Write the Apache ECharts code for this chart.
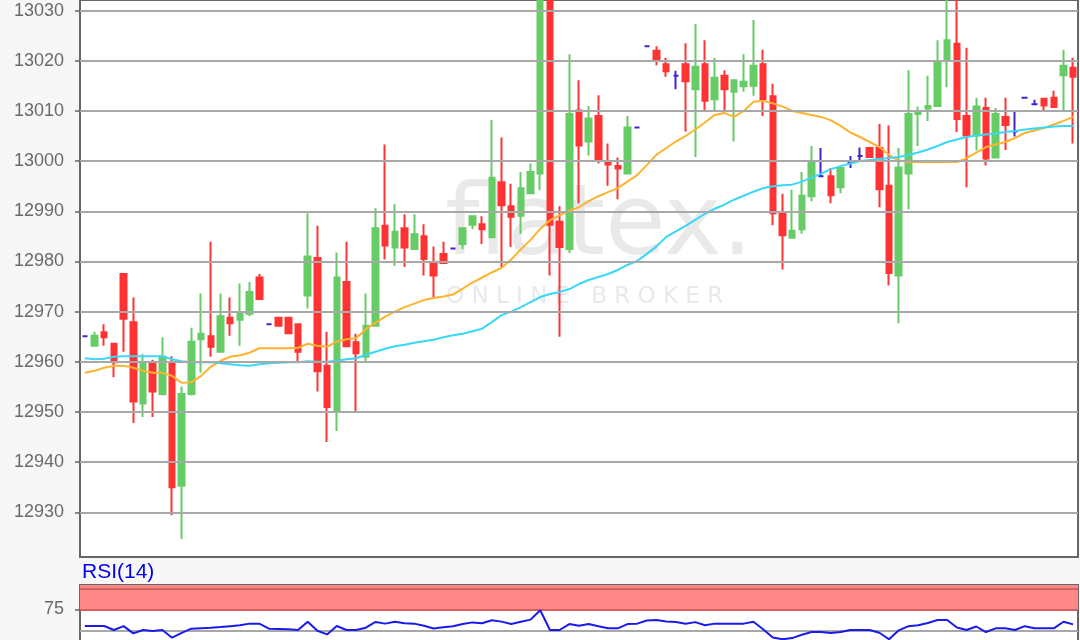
<!DOCTYPE html>
<html>
<head>
<meta charset="utf-8">
<script src="https://cdn.jsdelivr.net/npm/echarts@6/dist/echarts.min.js"></script>
<style>
html,body{margin:0;padding:0;background:#f7f7f7;}
#c{width:1080px;height:640px;}
</style>
</head>
<body>
<div id="c"></div>
<script>
// ---- data ----
const categories = Array.from({length: 103}, (_, i) => String(i + 1));

const opens = [12965.1,12963.2,12965.9,12963.6,12977.5,12967.9,12951.7,12959.7,12953.6,12959.9,
12935.3,12953.6,12964.5,12965.1,12962,12968.8,12968.4,12969.6,12976.8,12967.5,
12968.8,12968.8,12967.5,12973.2,12980.7,12959.2,12950.1,12975.9,12963.9,12961,
12967.2,12987.1,12982.8,12986.6,12982.5,12985,12979.8,12981.5,12982.6,12983.5,
12987.3,12987.4,12984.8,12995.8,12991,12989.1,12993.6,12997.5,13040,12987.9,
12982.5,13010.1,13003.9,13009,12999.8,12999,12997.5,13006.7,13022.9,13022,
13019.3,13017,13019.3,13014.3,13019.3,13012.3,13017,13013.8,13014.9,13015,
13019.3,13012.9,12989.6,12984.7,12986.4,12993,12997,12997,12994.8,12999.8,
13001,13002.6,13002.6,12995.1,12977.2,12997.5,13009.4,13010.5,13011,13020.2,
13023.4,13009,13005.1,13010.6,13000.7,13008.8,13005.9,13012.6,13011.3,13012.4,
13012.6,13017.1,13018.6];

const closes = [12965.1,12965.2,12964.9,12959.9,12968.6,12952.1,12959.9,12954.1,12961,12935,
12953.6,12964,12965.6,12963,12969.1,12967.7,12969.6,12973.9,12972.5,12967.5,
12967.2,12965.7,12962,12981,12958.1,12951,12976.8,12963.1,12961.7,12967.2,
12986.6,12983.2,12985.9,12982.8,12985.4,12980.5,12977.2,12979.7,12982.6,12986.6,
12989,12986.4,12996.7,12991.2,12988.9,12994.6,12997.8,13040,12987.3,12982.9,
13009.4,13003.1,13008.5,13000.3,12999.3,12998.5,13006.7,13006.7,13022.9,13020.2,
13017.9,13017,13015.9,13018.8,13012,13016.6,13014.3,13016.1,13015.8,13019,
13012.3,12989.6,12985.2,12986.1,12993.1,12999.6,12997,12993.2,12998.6,12999.8,
13001,13000.8,12994.4,12977.7,12998.7,13009.4,13009.9,13011,13019.9,13024.1,
13008.4,13005.1,13010.9,13000.5,13009.4,13007.2,13005.9,13012.6,13011.3,13011.1,
13010.8,13019,13016.8];

const lows = [12965.1,12963.2,12963.2,12956.9,12962,12947.8,12949,12949,12953.3,12929.4,
12924.7,12953.3,12957.8,12961,12962,12965.2,12963.2,12969.1,12972.5,12967.5,
12967.2,12965.7,12959.9,12970.6,12954.1,12944,12946.2,12963.1,12950.1,12960.1,
12967,12980.4,12979.1,12978.9,12982.5,12977.2,12972.7,12979.7,12982.6,12982.5,
12986.4,12983.5,12984.8,12978.9,12982.9,12985.5,12993.6,12994.2,12977.2,12965,
12981.7,12991.6,13001.1,12999.5,12995.1,12992.4,12997.5,13006.7,13022.9,13019.1,
13016.8,13014.3,13005.9,13000.8,13010.1,13010.2,13009.9,13003.9,13013.8,13013,
13009,12987.2,12978.4,12984.7,12985.5,12992,12997,12991.6,12993.6,12998.6,
12999.9,13000.8,12990.8,12975.2,12967.7,12990.4,13003,13008,13011,13014.7,
13005.8,12994.8,13002.1,12999.1,13000.7,13002.2,13004.9,13012.6,13011.3,13010,
13010.8,13009.9,13003.5];

const highs = [12965.1,12966,12967.5,12963.6,12977.5,12972.8,12961.5,12960.4,12964.9,12961.1,
12955.1,12966.8,12973.6,12983.9,12973.6,12972.8,12975.6,12975.9,12977.5,12967.5,
12968.8,12968.8,12967.5,12989.6,12987.1,12966,12981.8,12983.9,12965.6,12973.6,
12990.6,13003.3,12991.4,12989.4,12989.4,12987.4,12983,12983.9,12982.6,12986.6,
12989,12989,13008.2,13004.7,12995.5,12997.8,12999.5,13045,13045,12991,
13021.3,13016.1,13011,13013.1,13003.5,13000.7,13009,13006.7,13022.9,13022.9,
13020.6,13018,13023.5,13027.3,13024.1,13020.6,13018.1,13016.1,13021.3,13028.1,
13022.2,13015.4,12993.5,12994.3,12997.8,13003,13002.6,12998.6,12998.6,13001,
13002.7,13002.6,13007.4,13007.1,13002.6,13018.1,13010.9,13017,13024.1,13040,
13040,13022.6,13012.6,13012.6,13010.6,13012.6,13010,13012.6,13012.2,13012.4,
13014,13022.2,13020.6];

const maOrange = [12957.8,12958.2,12958.8,12959.2,12959.2,12958.8,12958.2,12957.8,12957.8,12957.2,
12955.8,12955.9,12957.2,12959,12960.2,12961,12961.3,12961.8,12962.7,12962.7,
12962.7,12962.7,12962.8,12963.6,12963.2,12963,12964,12964.5,12964.7,12966.5,
12967.8,12969,12970,12970.9,12971.6,12972.3,12972.7,12973,12973.4,12974.6,
12975.8,12976.8,12977.8,12978.7,12980.4,12982.4,12984.3,12986.5,12988.2,12989.2,
12990.1,12990.8,12992,12993,12993.8,12994.6,12995.9,12997.2,12999.2,13001.3,
13002.6,13003.9,13005,13006.3,13007.7,13009.2,13009.6,13008.8,13010,13011.8,
13012,13011.5,13010.9,13010,13009.6,13009.2,13008.8,13008.1,13007,13005.7,
13004.8,13003.8,13002.8,13001.2,13000.1,12999.8,12999.8,12999.8,12999.8,12999.8,
12999.8,13000.6,13001.7,13002.8,13003.3,13003.8,13004.6,13005.6,13006.1,13006.6,
13007.3,13008,13008.8];

const maCyan = [12960.7,12960.5,12960.6,12961,12961.1,12961.1,12961.1,12961.1,12961.1,12960.5,
12960.1,12959.9,12959.9,12959.9,12959.7,12959.5,12959.3,12959.2,12959.5,12959.7,
12959.8,12959.9,12959.9,12960.1,12960,12960,12960.2,12960.5,12960.7,12961.4,
12962,12962.6,12963.1,12963.4,12963.8,12964.1,12964.4,12964.9,12965.3,12965.6,
12966.1,12966.6,12967.9,12969.3,12970,12970.9,12971.9,12972.9,12973.5,12973.9,
12974.5,12975.5,12976.3,12976.9,12977.5,12978.3,12979.3,12980.1,12981.5,12983,
12984.9,12986,12987.1,12988.3,12989.5,12990.5,12991.3,12992.3,12993.1,12993.9,
12994.6,12995,12995.2,12995.3,12995.9,12996.7,12997.5,12998.4,12999,12999.5,
13000,13000.2,13000.4,13000.6,13000.8,13001.2,13001.7,13002.3,13003,13003.8,
13004.3,13004.8,13005.1,13005.3,13005.5,13005.8,13006,13006.3,13006.5,13006.7,
13006.9,13007,13007];

const rsi = [55.2,55.2,55.2,50.4,55,46.4,50.4,49.2,50.4,41.3,
47,52,52.6,53.2,54,55,56,58,58,52,
51.6,51.2,50.5,60.3,49.5,45.2,55.2,50.4,50.4,53.2,
60,58,60.3,58.5,58,55.5,52.3,53.6,54.8,57.5,
59.5,58.5,62,60.4,57.6,60.3,62.8,74,50.4,50.4,
57.5,55.4,57.5,55,52.4,52.4,57.5,58,61.8,62.3,
60.5,59.9,58,59.8,56,58,58,58,58,60.3,
51.4,41.5,39.4,40.8,44.7,48,48,47,48,50.4,
50.4,50.4,47.2,39.4,50,55,56,58.8,62.3,62.3,
53.4,50.4,54.6,48,52.4,52.4,50.4,55,52.4,52.4,
52.4,60.3,57.1];

const priceTicks = [12930,12940,12950,12960,12970,12980,12990,13000,13010,13020,13030];
const rsiTicks = [75];
const rsiBands = [50, 75, 100];
const rsiTitle = 'RSI(14)';
const watermark = 'flatex.';
const watermarkSub = 'O N L I N E   B R O K E R';

// ---- chart ----
const candles = opens.map((o, i) => [o, closes[i], lows[i], highs[i]]);
const chart = echarts.init(document.getElementById('c'), null, {renderer: 'canvas'});
const font = '"Liberation Sans", Arial, sans-serif';

chart.setOption({
  backgroundColor: '#f7f7f7',
  animation: false,
  grid: [
    {left: 80, right: 2, top: 0, height: 557, show: true, backgroundColor: '#ffffff',
     borderColor: '#666', borderWidth: 2, outerBoundsMode: 'none', containLabel: false},
    {left: 80, right: 2, top: 585, height: 60, show: true, backgroundColor: '#ffffff',
     borderColor: '#666', borderWidth: 2, outerBoundsMode: 'none', containLabel: false}
  ],
  xAxis: [
    {type: 'category', data: categories, gridIndex: 0, boundaryGap: true,
     axisLine: {show: false}, axisTick: {show: false}, axisLabel: {show: false}, splitLine: {show: false}},
    {type: 'category', data: categories, gridIndex: 1, boundaryGap: true,
     axisLine: {show: false}, axisTick: {show: false}, axisLabel: {show: false}, splitLine: {show: false}}
  ],
  yAxis: [
    {type: 'value', gridIndex: 0, min: 12921.1, max: 13032.1, scale: true,
     axisLine: {show: true, lineStyle: {color: '#666', width: 2}},
     axisTick: {show: true, length: 5, lineStyle: {color: '#666', width: 1.5}, customValues: priceTicks},
     axisLabel: {color: '#6a6a6a', fontSize: 18, fontFamily: font, margin: 16,
                 customValues: priceTicks, formatter: v => String(v)},
     splitLine: {show: false}},
    {type: 'value', gridIndex: 1, min: 32.57, max: 104, scale: true,
     axisLine: {show: true, lineStyle: {color: '#666', width: 2}},
     axisTick: {show: true, length: 5, lineStyle: {color: '#666', width: 1.5}, customValues: rsiTicks},
     axisLabel: {color: '#6a6a6a', fontSize: 18, fontFamily: font, margin: 16,
                 customValues: rsiTicks, formatter: v => String(v)},
     splitLine: {show: false}}
  ],
  graphic: [
    {type: 'text', z: 1, left: 445, top: 180, silent: true,
     style: {text: watermark, font: '98px "DejaVu Sans"', fill: 'rgba(200,200,200,0.4)'}},
    {type: 'text', z: 1, left: 446, top: 286, silent: true,
     style: {text: watermarkSub, font: '23px "DejaVu Sans"', fill: 'rgba(200,200,200,0.4)'}},
    {type: 'text', z: 10, left: 82, top: 562,
     style: {text: rsiTitle, font: '21px ' + font, fill: '#0000ee'}}
  ],
  series: [
    {type: 'line', xAxisIndex: 0, yAxisIndex: 0, data: [], silent: true,
     markLine: {silent: true, symbol: 'none', label: {show: false},
                lineStyle: {color: '#a8a8a8', width: 2, type: 'solid'},
                data: priceTicks.map(v => ({yAxis: v}))}},
    {type: 'candlestick', name: 'price', xAxisIndex: 0, yAxisIndex: 0, data: candles,
     barWidth: 6, clip: true,
     itemStyle: {color: '#66cc66', color0: '#ff3333', borderColor: '#66cc66', borderColor0: '#ff3333',
                 borderColorDoji: '#4422cc', borderWidth: 2}},
    {type: 'line', name: 'maOrange', xAxisIndex: 0, yAxisIndex: 0, data: maOrange,
     showSymbol: false, z: 3, lineStyle: {color: '#fdb32e', width: 2}},
    {type: 'line', name: 'maCyan', xAxisIndex: 0, yAxisIndex: 0, data: maCyan,
     showSymbol: false, z: 3, lineStyle: {color: '#3ad8f8', width: 2}},
    {type: 'line', name: 'rsi', xAxisIndex: 1, yAxisIndex: 1, data: rsi,
     showSymbol: false, z: 5, lineStyle: {color: '#1a1aee', width: 2},
     markArea: {silent: true, itemStyle: {color: '#ff8888'}, data: [[{yAxis: 75}, {yAxis: 104}]]},
     markLine: {silent: true, symbol: 'none', label: {show: false},
                data: [
                  {yAxis: rsiBands[2], lineStyle: {color: '#d46060', width: 2, type: 'solid'}},
                  {yAxis: rsiBands[1], lineStyle: {color: '#d46060', width: 2, type: 'solid'}},
                  {yAxis: rsiBands[0], lineStyle: {color: '#a8a8a8', width: 2, type: 'solid'}}
                ]}}
  ]
});
</script>
</body>
</html>
